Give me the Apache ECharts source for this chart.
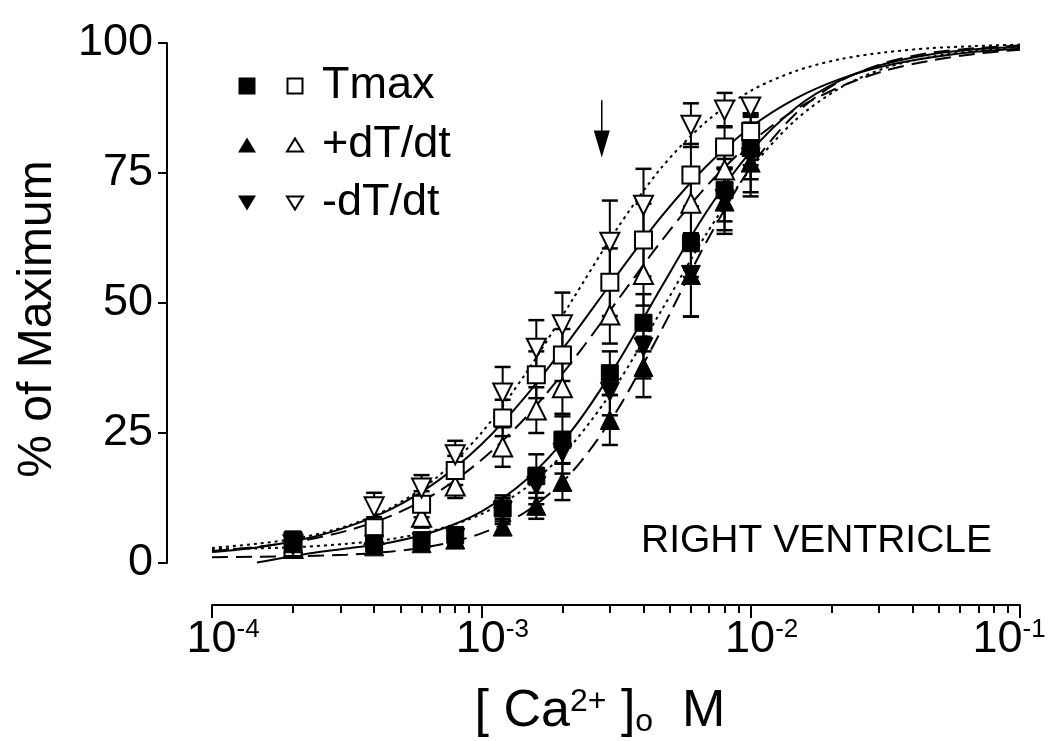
<!DOCTYPE html>
<html><head><meta charset="utf-8">
<script src="https://cdn.jsdelivr.net/npm/echarts@6/dist/echarts.min.js"></script>
<style>html,body{margin:0;padding:0;background:#fff}#c{width:1050px;height:741px}</style>
</head><body><div id="c"></div>
<script>
// ---- data ----
const conc = [2e-4, 4e-4, 6e-4, 8e-4, 1.2e-3, 1.6e-3, 2e-3, 3e-3, 4e-3, 6e-3, 8e-3, 1e-2];

const tmaxFilled   = [4.5, 3.8, 4.4, 5.4, 10.5, 16.7, 23.7, 36.5, 46.2, 61.5, 71.7, 79.8];
const tmaxFilledErr= [1.5, 1.0, 1.0, 1.2, 2.5, 4.2, 4.5, 4.2, 5.5, 6.5, 6.0, 6.0];
const tmaxOpen     = [3.0, 6.8, 11.3, 17.8, 27.9, 36.2, 40.0, 54.0, 62.1, 74.6, 80.0, 83.0];
const tmaxOpenErr  = [1.0, 2.0, 2.5, 2.8, 3.5, 4.5, 5.0, 6.5, 7.0, 6.0, 4.0, 3.5];
const plusFilled   = [3.8, 3.2, 3.8, 4.5, 7.0, 11.0, 15.6, 27.5, 37.7, 55.4, 69.5, 77.0];
const plusFilledErr= [1.0, 1.0, 1.0, 1.2, 1.5, 2.5, 3.5, 4.8, 5.8, 8.0, 6.2, 6.5];
const plusOpen     = [2.8, 5.5, 8.8, 14.8, 22.3, 29.4, 33.7, 47.7, 55.5, 69.2, 75.6, 80.5];
const plusOpenErr  = [1.0, 1.5, 2.0, 2.3, 3.8, 4.4, 5.0, 5.5, 6.0, 6.0, 4.5, 4.0];
const minusFilled  = [4.0, 3.5, 4.0, 4.8, 10.0, 14.8, 21.2, 32.9, 41.5, 55.4, 70.0, 78.0];
const minusFilledErr=[1.2, 1.0, 1.0, 1.2, 2.5, 3.5, 4.0, 4.5, 6.0, 8.0, 6.0, 6.7];
const minusOpen    = [3.5, 10.8, 14.4, 20.8, 32.7, 41.3, 45.8, 61.7, 68.8, 84.2, 87.1, 87.7];
const minusOpenErr = [1.5, 2.7, 2.5, 2.7, 5.0, 5.4, 6.2, 8.0, 7.0, 4.2, 3.3, 1.5];

// fitted curves, read at these concentrations
const curveX = [1e-4, 1.468e-4, 2.154e-4, 3.162e-4, 4.642e-4, 6.813e-4, 1e-3, 1.468e-3, 2.154e-3, 3.162e-3,
                4.642e-3, 6.813e-3, 1e-2, 1.468e-2, 2.154e-2, 3.162e-2, 4.642e-2, 6.813e-2, 1e-1];
const fitTmaxFilled  = [null, 0.1, 1.6, 2.8, 4.0, 6.2, 9.9, 16.0, 25.3, 38.0, 52.9, 67.3, 79.1, 87.5, 92.8, 96.0, 97.8, 98.8, 99.3];
const fitTmaxOpen    = [2.1, 3.0, 4.5, 6.9, 10.4, 15.6, 22.8, 32.2, 43.3, 55.1, 66.5, 76.2, 83.8, 89.3, 93.1, 95.6, 97.2, 98.3, 98.9];
const fitPlusFilled  = [1.1, 1.2, 1.3, 1.6, 2.2, 3.4, 5.7, 9.9, 17.3, 29.0, 44.6, 61.5, 76.1, 86.4, 92.7, 96.2, 98.1, 99.0, 99.5];
const fitPlusOpen    = [2.3, 3.1, 4.3, 6.2, 9.1, 13.5, 19.8, 28.1, 38.5, 50.1, 61.8, 72.3, 80.8, 87.2, 91.6, 94.7, 96.6, 97.9, 98.7];
const fitMinusFilled = [2.7, 2.8, 3.1, 3.7, 4.6, 6.4, 9.4, 14.5, 22.6, 34.1, 48.4, 63.1, 75.8, 85.2, 91.4, 95.2, 97.3, 98.5, 99.2];
const fitMinusOpen   = [2.9, 3.7, 4.9, 7.1, 10.7, 16.4, 25.0, 36.6, 50.2, 64.0, 75.9, 84.8, 90.8, 94.6, 96.9, 98.2, 99.0, 99.4, 99.7];

const legendLabels = ['Tmax', '+dT/dt', '-dT/dt'];
const majorTicks = [1e-4, 1e-3, 1e-2, 1e-1];
const minorTicks = [2e-4,3e-4,4e-4,5e-4,6e-4,7e-4,8e-4,9e-4,2e-3,3e-3,4e-3,5e-3,6e-3,7e-3,8e-3,9e-3,2e-2,3e-2,4e-2,5e-2,6e-2,7e-2,8e-2,9e-2];
const arrowX = [2.8e-3];
const arrowFrom = [89];
const arrowTo = [78];
const panelLabel = 'RIGHT VENTRICLE';
const yTitle = '% of Maximum';

// ---- chart ----
const FONT = '"Liberation Sans", Arial, Helvetica, sans-serif';
const chart = echarts.init(document.getElementById('c'), null, {renderer: 'canvas'});

function pairs(xs, ys) { const out = []; xs.forEach((x, i) => { if (ys[i] != null) out.push([x, ys[i]]); }); return out; }
function triples(xs, ys, es) { return xs.map((x, i) => [x, ys[i], es[i]]); }

function errRender(params, api) {
  const x = api.value(0), y = api.value(1), e = api.value(2);
  const top = api.coord([x, y + e]);
  const bot = api.coord([x, Math.max(0, y - e)]);
  const cap = 8;
  return {type: 'group', children: [
    {type: 'line', shape: {x1: top[0], y1: top[1], x2: bot[0], y2: bot[1]}, style: {stroke: '#000', lineWidth: 2}},
    {type: 'line', shape: {x1: top[0] - cap, y1: top[1], x2: top[0] + cap, y2: top[1]}, style: {stroke: '#000', lineWidth: 2.5}},
    {type: 'line', shape: {x1: bot[0] - cap, y1: bot[1], x2: bot[0] + cap, y2: bot[1]}, style: {stroke: '#000', lineWidth: 2.5}}
  ]};
}

function curve(name, ys, dash) {
  return {name, type: 'line', data: pairs(curveX, ys), showSymbol: false, symbol: 'none',
    smooth: 0.3, z: 2, silent: true,
    lineStyle: {color: '#000', width: 2, type: dash}};
}
function errs(name, ys, es) {
  return {name, type: 'custom', data: triples(conc, ys, es), renderItem: errRender,
    encode: {x: 0, y: 1}, z: 3, silent: true};
}
function marks(name, ys, symbol, rotate, filled, size) {
  return {name, type: 'scatter', data: pairs(conc, ys), symbol, symbolRotate: rotate, symbolSize: size,
    z: 4, silent: true,
    itemStyle: filled ? {color: '#000', borderColor: '#000', borderWidth: 1, opacity: 1}
                      : {color: '#fff', borderColor: '#000', borderWidth: 2, opacity: 1}};
}

const series = [
  curve('fit Tmax filled', fitTmaxFilled, 'solid'),
  curve('fit Tmax open', fitTmaxOpen, 'solid'),
  curve('fit +dT/dt filled', fitPlusFilled, [16, 8]),
  curve('fit +dT/dt open', fitPlusOpen, [16, 8]),
  curve('fit -dT/dt filled', fitMinusFilled, [3, 4]),
  curve('fit -dT/dt open', fitMinusOpen, [3, 4]),
  errs('e1', tmaxFilled, tmaxFilledErr), errs('e2', tmaxOpen, tmaxOpenErr),
  errs('e3', plusFilled, plusFilledErr), errs('e4', plusOpen, plusOpenErr),
  errs('e5', minusFilled, minusFilledErr), errs('e6', minusOpen, minusOpenErr),
  marks('+dT/dt open', plusOpen, 'triangle', 0, false, 19),
  marks('Tmax open', tmaxOpen, 'rect', 0, false, 17),
  marks('-dT/dt open', minusOpen, 'triangle', 180, false, 19),
  marks('-dT/dt filled', minusFilled, 'triangle', 180, true, 19),
  marks('+dT/dt filled', plusFilled, 'triangle', 0, true, 19),
  marks('Tmax filled', tmaxFilled, 'rect', 0, true, 17),
  {name: 'arrow', type: 'custom', z: 6, silent: true,
    data: arrowX.map((x, i) => [x, arrowFrom[i], arrowTo[i]]),
    encode: {x: 0, y: [1, 2]},
    renderItem: function (params, api) {
      const a = api.coord([api.value(0), api.value(1)]);
      const b = api.coord([api.value(0), api.value(2)]);
      const hl = 27, hw = 8;
      return {type: 'group', children: [
        {type: 'line', shape: {x1: a[0], y1: a[1], x2: b[0], y2: b[1] - hl + 2}, style: {stroke: '#000', lineWidth: 1.5}},
        {type: 'polygon', shape: {points: [[b[0] - hw, b[1] - hl], [b[0] + hw, b[1] - hl], [b[0], b[1]]]}, style: {fill: '#000'}}
      ]};
    }}
];

// legend drawn as graphics
const rows = [86, 145, 203];
const fx = 247, ox = 295, tx = 322;
const legendGraphics = [];
function tri(cx, cy, w, h, down, filled) {
  const pts = down ? [[cx - w / 2, cy - h / 2], [cx + w / 2, cy - h / 2], [cx, cy + h / 2]]
                   : [[cx - w / 2, cy + h / 2], [cx + w / 2, cy + h / 2], [cx, cy - h / 2]];
  return {type: 'polygon', shape: {points: pts}, style: filled ? {fill: '#000'} : {fill: '#fff', stroke: '#000', lineWidth: 2}};
}
legendGraphics.push({type: 'rect', shape: {x: fx - 8.5, y: rows[0] - 8.5, width: 17, height: 17}, style: {fill: '#000'}});
legendGraphics.push({type: 'rect', shape: {x: ox - 7.5, y: rows[0] - 7.5, width: 15, height: 15}, style: {fill: '#fff', stroke: '#000', lineWidth: 2}});
legendGraphics.push(tri(fx, rows[1], 18, 15, false, true));
legendGraphics.push(tri(ox, rows[1], 16, 13, false, false));
legendGraphics.push(tri(fx, rows[2], 18, 15, true, true));
legendGraphics.push(tri(ox, rows[2], 16, 13, true, false));
legendLabels.forEach((t, i) => legendGraphics.push({type: 'text', x: tx, y: rows[i],
  style: {text: t, font: '45px ' + FONT, fill: '#000', verticalAlign: 'middle', align: 'left'}}));

const option = {
  backgroundColor: '#fff',
  animation: false,
  grid: {left: 212, right: 30, top: 43, bottom: 178, containLabel: false, outerBoundsMode: 'none'},
  xAxis: [{
    type: 'log', logBase: 10, min: 1e-4, max: 1e-1, offset: 42, position: 'bottom',
    axisLine: {show: true, onZero: false, lineStyle: {color: '#000', width: 2}},
    axisTick: {show: true, length: 13, lineStyle: {color: '#000', width: 2}, customValues: majorTicks},
    axisLabel: {show: true, margin: 12, customValues: majorTicks, padding: [0, 0, 0, 22],
      formatter: v => {
        const e = Math.round(Math.log10(v));
        return '{b|10}{s|' + e + '}' + (e === -1 ? '{z|}' : '');
      },
      rich: {b: {fontSize: 45, fontFamily: FONT, color: '#000'},
             s: {fontSize: 26, fontFamily: FONT, color: '#000', verticalAlign: 'top'},
             z: {width: 44, fontSize: 10}}},
    splitLine: {show: false}, minorTick: {show: false}
  }, {
    type: 'log', logBase: 10, min: 1e-4, max: 1e-1, offset: 42, position: 'bottom',
    axisLine: {show: false, onZero: false},
    axisTick: {show: true, length: 8, lineStyle: {color: '#000', width: 2}, customValues: minorTicks},
    axisLabel: {show: false}, splitLine: {show: false}
  }],
  yAxis: {
    type: 'value', min: 0, max: 100, interval: 25, offset: 45,
    axisLine: {show: true, onZero: false, lineStyle: {color: '#000', width: 2}},
    axisTick: {show: true, length: 9, lineStyle: {color: '#000', width: 2}},
    axisLabel: {fontSize: 45, fontFamily: FONT, color: '#000', margin: 14},
    splitLine: {show: false}
  },
  graphic: legendGraphics.concat([
    {type: 'text', x: 641, y: 541, style: {text: panelLabel, font: '39px ' + FONT, fill: '#000', verticalAlign: 'middle', align: 'left'}},
    {type: 'text', x: 38, y: 319, rotation: Math.PI / 2,
      style: {text: yTitle, font: '48px ' + FONT, fill: '#000', align: 'center', verticalAlign: 'middle'}},
    {type: 'text', x: 600, y: 712,
      style: {text: '{a|[ Ca}{p|2+}{a| ]}{o|o}{a|  M}', align: 'center', verticalAlign: 'middle',
        rich: {a: {fontSize: 52, fontFamily: FONT, color: '#000'},
               p: {fontSize: 32, fontFamily: FONT, color: '#000', verticalAlign: 'top'},
               o: {fontSize: 32, fontFamily: FONT, color: '#000', verticalAlign: 'bottom'}}}}
  ]),
  series
};
chart.setOption(option);
</script>
</body></html>
